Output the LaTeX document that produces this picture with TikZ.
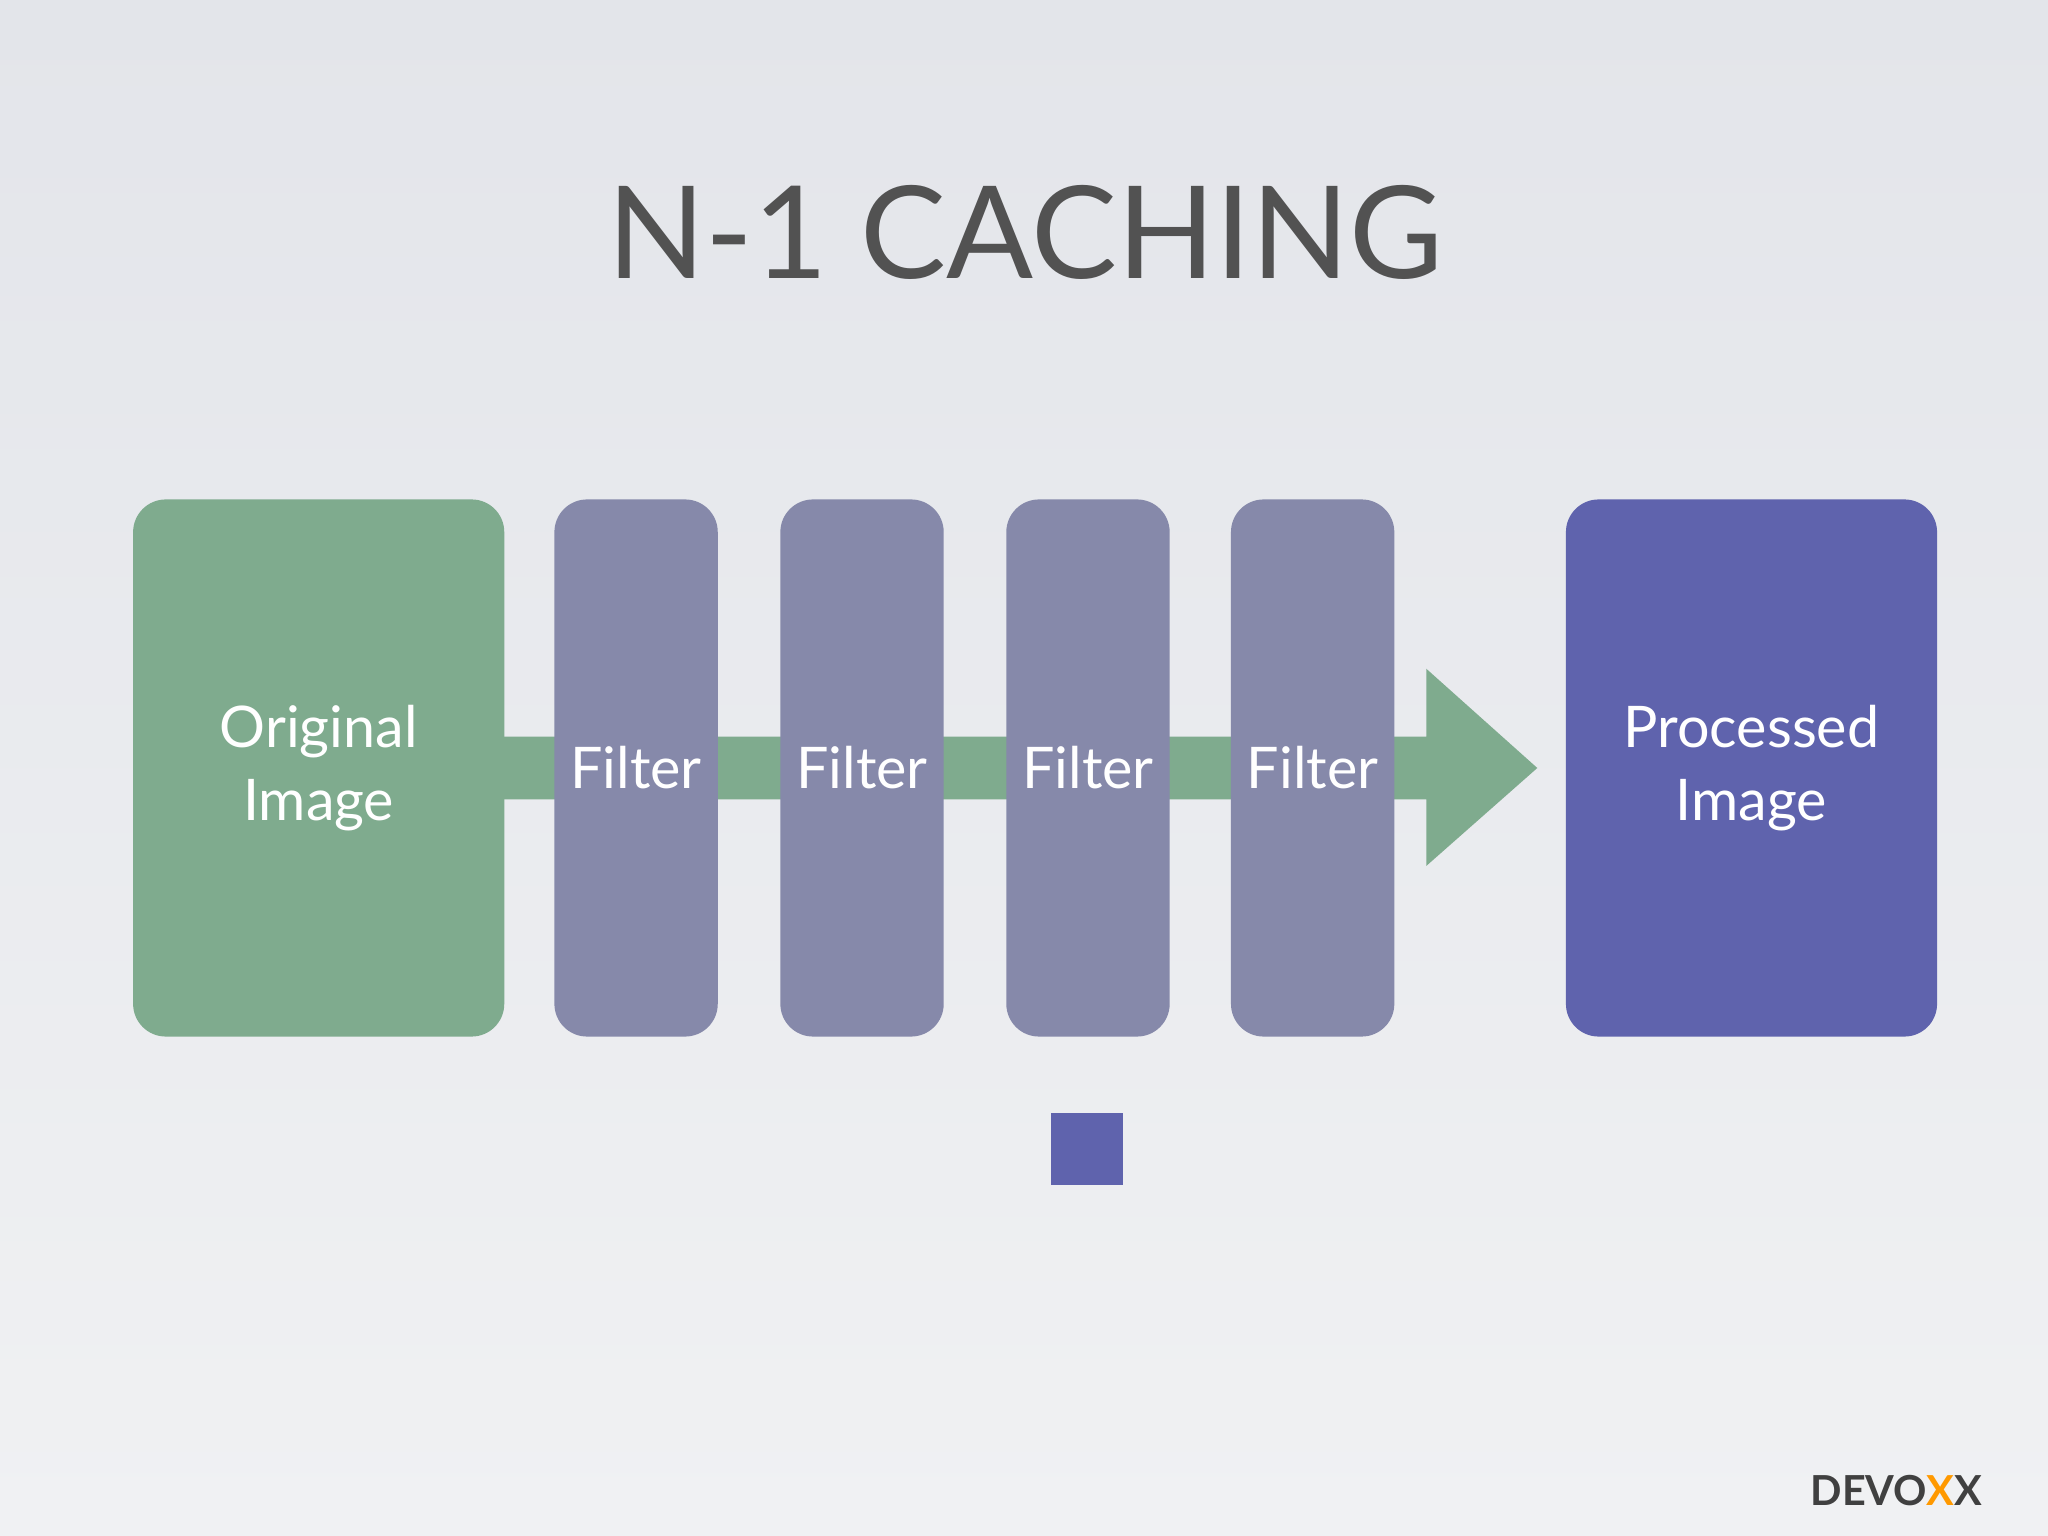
\documentclass[tikz,border=0pt]{standalone}
\usepackage{fontspec}
\setmainfont{Lato}
\begin{document}
\begin{tikzpicture}[x=0.01cm,y=-0.01cm,
  box/.style={rounded corners=0.25cm,draw=none,text=white,align=center,font=\fontsize{12.5}{16}\selectfont},
  filt/.style={box,fill=filtc,minimum width=1.25cm,minimum height=4.11cm},
  big/.style={box,minimum width=2.84cm,minimum height=4.11cm}]
\definecolor{green}{HTML}{7FAB8E}
\definecolor{filtc}{HTML}{8689AA}
\definecolor{proc}{HTML}{5F63AD}
\definecolor{bgtop}{HTML}{E3E5EA}
\definecolor{bgbot}{HTML}{F0F1F3}
\shade[top color=bgtop,bottom color=bgbot] (0,0) rectangle (1568,1176);
\useasboundingbox (0,0) rectangle (1568,1176);
\node[text=black!68,font=\fontsize{28}{32}\selectfont] (title) at (785,178) {N-1 CACHING};
\fill[green] (370,564) rectangle (1092,612) -- (1092,612) -- (1092,663) -- (1177,588) -- (1092,512) -- (1092,564) -- cycle;
\node[big,fill=green] (orig) at (244,588) {Original\\Image};
\node[filt] (f1) at (487,588) {Filter};
\node[filt] (f2) at (660,588) {Filter};
\node[filt] (f3) at (833,588) {Filter};
\node[filt] (f4) at (1005,588) {Filter};
\node[big,fill=proc] (proc) at (1341,588) {Processed\\Image};
\node[fill=proc,minimum size=0.55cm,inner sep=0] (sq) at (832,880) {};
\node[font=\bfseries\fontsize{9}{10}\selectfont,text=black!75] (logo) at (1452,1141) {DEVO\textcolor{orange!80!yellow}{X}X};
\end{tikzpicture}
\end{document}
